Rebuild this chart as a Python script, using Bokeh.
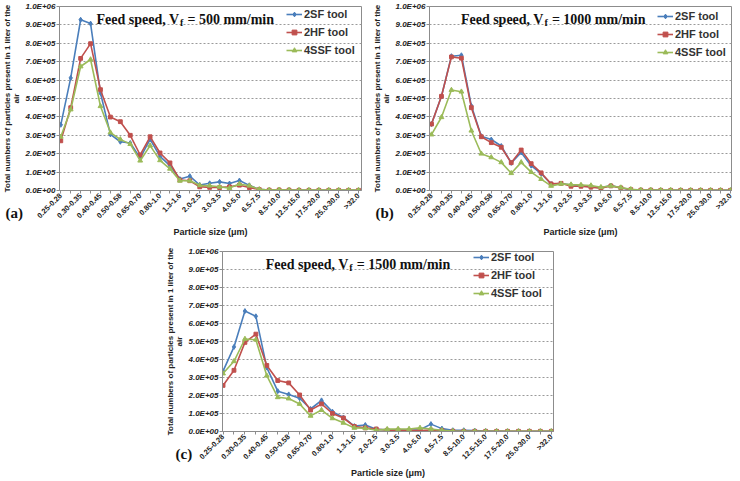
import math
from bokeh.plotting import figure
from bokeh.layouts import column, row
from bokeh.models import Range1d, FixedTicker, Label, Legend, LegendItem, Spacer, Title
from bokeh.embed import file_html
from bokeh.resources import INLINE

SIZES = ["0.25-0.28", "0.28-0.30", "0.30-0.35", "0.35-0.40", "0.40-0.45", "0.45-0.50",
         "0.50-0.58", "0.58-0.65", "0.65-0.70", "0.70-0.80", "0.80-1.0", "1.0-1.3",
         "1.3-1.6", "1.6-2.0", "2.0-2.5", "2.5-3.0", "3.0-3.5", "3.5-4.0", "4.0-5.0",
         "5.0-6.5", "6.5-7.5", "7.5-8.5", "8.5-10.0", "10.0-12.5", "12.5-15.0",
         "15.0-17.5", "17.5-20.0", "20.0-25.0", "25.0-30.0", "30.0-32.0", ">32.0"]

TOOLS = ["2SF tool", "2HF tool", "4SSF tool"]

# Panel (a): Vf = 500 mm/min
A_2SF = [3.57e5, 6.12e5, 9.28e5, 9.07e5, 5.30e5, 3.05e5, 2.65e5, 2.58e5, 1.77e5, 2.78e5, 1.85e5,
         1.35e5, 0.62e5, 0.78e5, 0.30e5, 0.39e5, 0.47e5, 0.38e5, 0.54e5, 0.28e5, 0.06e5, 0.02e5,
         0.03e5, 0.02e5, 0.01e5, 0.01e5, 0.01e5, 0.01e5, 0.01e5, 0.01e5, 0.01e5]
A_2HF = [2.70e5, 4.50e5, 7.18e5, 7.98e5, 5.48e5, 3.99e5, 3.74e5, 3.00e5, 1.93e5, 2.92e5, 2.04e5,
         1.50e5, 0.57e5, 0.53e5, 0.20e5, 0.17e5, 0.16e5, 0.20e5, 0.29e5, 0.16e5, 0.05e5, 0.02e5,
         0.03e5, 0.02e5, 0.01e5, 0.01e5, 0.01e5, 0.01e5, 0.01e5, 0.01e5, 0.01e5]
A_4SSF = [2.92e5, 4.40e5, 6.74e5, 7.12e5, 4.58e5, 3.15e5, 2.78e5, 2.52e5, 1.62e5, 2.44e5, 1.64e5,
          1.18e5, 0.53e5, 0.53e5, 0.28e5, 0.26e5, 0.20e5, 0.13e5, 0.35e5, 0.26e5, 0.06e5, 0.03e5,
          0.04e5, 0.03e5, 0.02e5, 0.02e5, 0.02e5, 0.02e5, 0.02e5, 0.02e5, 0.02e5]

# Panel (b): Vf = 1000 mm/min
B_2SF = [3.61e5, 5.12e5, 7.30e5, 7.35e5, 4.60e5, 2.95e5, 2.77e5, 2.42e5, 1.50e5, 2.07e5, 1.35e5,
         0.92e5, 0.35e5, 0.38e5, 0.30e5, 0.27e5, 0.20e5, 0.15e5, 0.27e5, 0.15e5, 0.04e5, 0.02e5,
         0.02e5, 0.01e5, 0.01e5, 0.01e5, 0.01e5, 0.01e5, 0.01e5, 0.01e5, 0.01e5]
B_2HF = [3.61e5, 5.12e5, 7.26e5, 7.19e5, 4.50e5, 2.92e5, 2.60e5, 2.35e5, 1.51e5, 2.20e5, 1.46e5,
         0.96e5, 0.36e5, 0.39e5, 0.23e5, 0.23e5, 0.18e5, 0.12e5, 0.25e5, 0.14e5, 0.05e5, 0.02e5,
         0.02e5, 0.01e5, 0.01e5, 0.01e5, 0.01e5, 0.01e5, 0.01e5, 0.01e5, 0.01e5]
B_4SSF = [3.04e5, 3.98e5, 5.46e5, 5.37e5, 3.25e5, 2.00e5, 1.80e5, 1.53e5, 0.94e5, 1.53e5, 1.00e5,
          0.62e5, 0.25e5, 0.36e5, 0.32e5, 0.30e5, 0.27e5, 0.18e5, 0.25e5, 0.16e5, 0.07e5, 0.03e5,
          0.03e5, 0.02e5, 0.02e5, 0.01e5, 0.01e5, 0.01e5, 0.01e5, 0.01e5, 0.01e5]

# Panel (c): Vf = 1500 mm/min
C_2SF = [3.35e5, 4.70e5, 6.69e5, 6.40e5, 3.55e5, 2.24e5, 2.06e5, 1.85e5, 1.25e5, 1.73e5, 1.10e5,
         0.78e5, 0.30e5, 0.36e5, 0.12e5, 0.10e5, 0.09e5, 0.07e5, 0.10e5, 0.41e5, 0.16e5, 0.07e5,
         0.07e5, 0.05e5, 0.03e5, 0.02e5, 0.01e5, 0.01e5, 0.01e5, 0.01e5, 0.01e5]
C_2HF = [2.56e5, 3.40e5, 4.95e5, 5.41e5, 3.67e5, 2.83e5, 2.70e5, 2.03e5, 1.19e5, 1.53e5, 1.00e5,
         0.75e5, 0.28e5, 0.20e5, 0.14e5, 0.07e5, 0.07e5, 0.06e5, 0.05e5, 0.08e5, 0.05e5, 0.02e5,
         0.01e5, 0.01e5, 0.01e5, 0.01e5, 0.01e5, 0.01e5, 0.01e5, 0.01e5, 0.01e5]
C_4SSF = [3.22e5, 3.90e5, 5.14e5, 5.10e5, 3.10e5, 1.90e5, 1.83e5, 1.53e5, 0.87e5, 1.19e5, 0.73e5,
          0.48e5, 0.20e5, 0.18e5, 0.07e5, 0.13e5, 0.14e5, 0.14e5, 0.20e5, 0.14e5, 0.07e5, 0.02e5,
          0.01e5, 0.01e5, 0.01e5, 0.01e5, 0.01e5, 0.01e5, 0.01e5, 0.01e5, 0.01e5]

Y_TICKS = [0, 100000, 200000, 300000, 400000, 500000, 600000, 700000, 800000, 900000, 1000000]
Y_LABELS = ["0.0E+00", "1.0E+05", "2.0E+05", "3.0E+05", "4.0E+05", "5.0E+05",
            "6.0E+05", "7.0E+05", "8.0E+05", "9.0E+05", "1.0E+06"]

COLORS = ["#4a7ebb", "#c0504d", "#9bbb59"]
MARKERS = ["diamond", "square", "triangle"]
MSIZE = [5, 3.8, 4.8]

SANS = "Liberation Sans"
SERIF = "Liberation Serif"


def panel(series, speed, tag, width, height, left, right, top, bottom, xr,
          title_idx, legend_x, legend_top, tag_x, tag_shift):
    p = figure(width=width, height=height, x_range=Range1d(*xr), y_range=Range1d(0, 1000000),
               output_backend="svg", toolbar_location=None,
               min_border_left=left, min_border_right=right,
               min_border_top=top, min_border_bottom=bottom)
    frame_h = height - top - bottom
    p.background_fill_color = "white"
    p.border_fill_color = "white"
    p.outline_line_color = "#8c8c8c"
    p.xgrid.visible = False
    p.ygrid.grid_line_color = "#9a9a9a"
    p.ygrid.grid_line_dash = "2 2"
    p.ygrid.grid_line_width = 1

    idx = list(range(len(SIZES)))
    items = []
    for vals, name, col, mk, ms in zip(series, TOOLS, COLORS, MARKERS, MSIZE):
        ln = p.line(idx, vals, line_color=col, line_width=1.6)
        sc = p.scatter(idx, vals, marker=mk, size=ms, fill_color=col, line_color=col)
        items.append(LegendItem(label=name, renderers=[ln, sc]))

    xa = p.xaxis[0]
    xa.ticker = FixedTicker(ticks=idx)
    xa.major_label_overrides = {i: (SIZES[i] if i % 2 == 0 else "") for i in idx}
    xa.major_label_orientation = math.pi / 4
    xa.major_label_text_font = SANS
    xa.major_label_text_font_style = "bold"
    xa.major_label_text_font_size = "7.5px"
    xa.major_label_text_color = "#222222"
    xa.major_label_standoff = 1
    xa.minor_tick_line_color = None
    xa.major_tick_out = 3
    xa.major_tick_in = 0
    xa.axis_line_color = "#8c8c8c"
    xa.major_tick_line_color = "#8c8c8c"
    xa.axis_label = "Particle size (\u03bcm)"
    xa.axis_label_text_font = SANS
    xa.axis_label_text_font_style = "bold"
    xa.axis_label_text_font_size = "9px"
    xa.axis_label_text_color = "#222222"
    xa.axis_label_standoff = 1

    ya = p.yaxis[0]
    ya.ticker = FixedTicker(ticks=Y_TICKS)
    ya.major_label_overrides = {t: l for t, l in zip(Y_TICKS, Y_LABELS)}
    ya.major_label_text_font = SANS
    ya.major_label_text_font_style = "bold italic"
    ya.major_label_text_font_size = "8px"
    ya.major_label_text_color = "#222222"
    ya.major_label_standoff = 1
    ya.minor_tick_line_color = None
    ya.major_tick_out = 3
    ya.major_tick_in = 0
    ya.axis_line_color = "#8c8c8c"
    ya.major_tick_line_color = "#8c8c8c"
    ya.axis_label = "Total numbers of particles present in 1 liter of the\nair"
    ya.axis_label_text_font = SANS
    ya.axis_label_text_font_style = "bold"
    ya.axis_label_text_font_size = "8px"
    ya.axis_label_text_line_height = 1.0
    ya.axis_label_text_color = "#222222"
    ya.axis_label_standoff = 1

    leg = Legend(items=items, location=(legend_x, frame_h - legend_top - 54))
    leg.background_fill_alpha = 0
    leg.border_line_alpha = 0
    leg.label_text_font = SANS
    leg.label_text_font_style = "bold"
    leg.label_text_font_size = "11px"
    leg.label_text_color = "#333333"
    leg.glyph_width = 16
    leg.glyph_height = 12
    leg.label_height = 18
    leg.label_standoff = 2
    leg.spacing = 0
    leg.padding = 0
    leg.margin = 0
    p.add_layout(leg)

    common = dict(x=title_idx, y=1000000, x_units="data", y_units="data", text_font=SERIF,
                  text_font_style="bold", text_color="#111111", text_baseline="alphabetic",
                  text_align="left")
    p.add_layout(Label(text="Feed speed, V", text_font_size="14px", y_offset=-12.5, **common))
    p.add_layout(Label(text="f", text_font_size="10px", x_offset=83.5, y_offset=-16, **common))
    p.add_layout(Label(text="= %s mm/min" % speed, text_font_size="14px",
                       x_offset=91, y_offset=-12.5, **common))

    t = Title(text=tag + "\n \n \n ", align="left", offset=tag_x, vertical_align="top",
              standoff=tag_shift, text_font=SERIF, text_font_style="bold",
              text_font_size="15px", text_color="#111111")
    p.add_layout(t, "below")
    return p


pa = panel([A_2SF, A_2HF, A_4SSF], "500", "(a)", 370, 240, 56, 9, 6, 48, (-0.13, 30.3),
           3.6, 227, 1, -54, -72)
pb = panel([B_2SF, B_2HF, B_4SSF], "1000", "(b)", 370, 240, 56, 9, 6, 47, (-0.2, 30.1),
           2.95, 228, 4, -54, -72)
pc = panel([C_2SF, C_2HF, C_4SSF], "1500", "(c)", 399, 241, 56, 9, 11, 43, (-0.05, 30.2),
           3.9, 251, 4, -47, -72)

layout = column(row(pa, pb), row(Spacer(width=163, height=241), pc))

open("out.html", "w").write(file_html(layout, INLINE))
